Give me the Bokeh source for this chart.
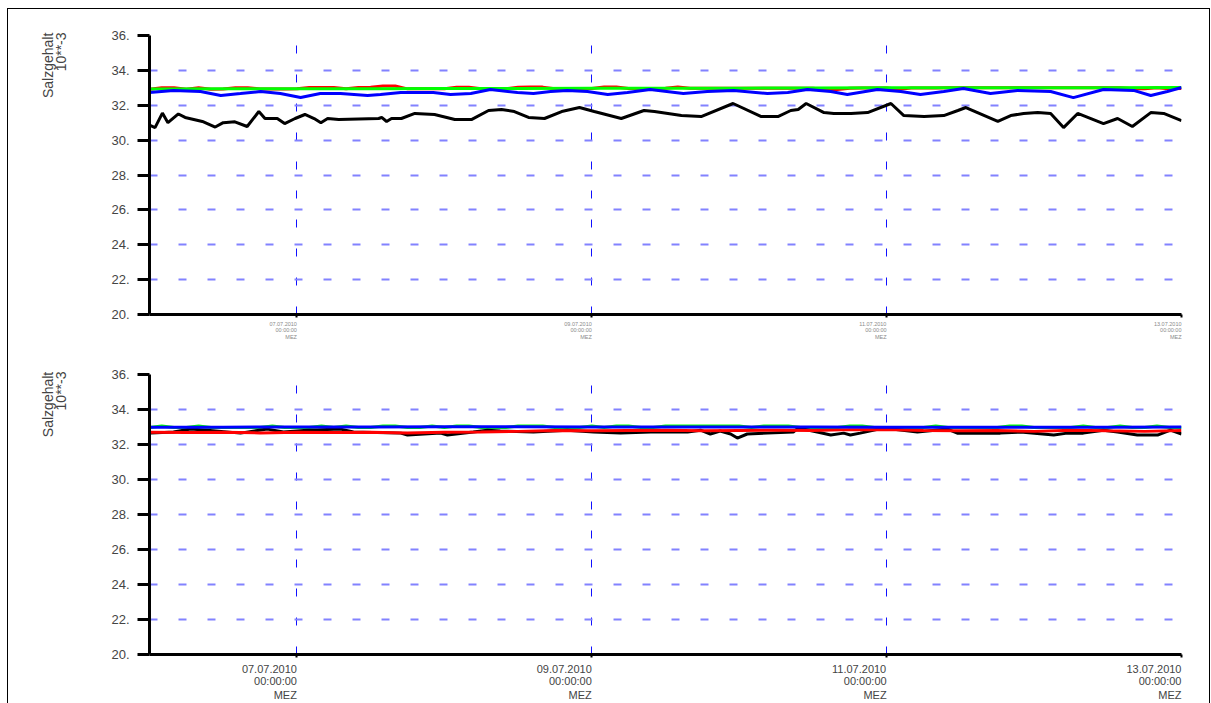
from bokeh.plotting import figure
from bokeh.models import Range1d, FixedTicker, LinearAxis
from bokeh.layouts import column
from bokeh.embed import file_html
from bokeh.resources import INLINE

# ---------------- data (hours since 06.07.2010 00:00 MEZ) ----------------
x_ticks = [24, 72, 120, 168]
x_tick_dates = ["07.07.2010", "09.07.2010", "11.07.2010", "13.07.2010"]
x_tick_times = ["00:00:00", "00:00:00", "00:00:00", "00:00:00"]
x_tick_zones = ["MEZ", "MEZ", "MEZ", "MEZ"]
y_ticks = [20, 22, 24, 26, 28, 30, 32, 34, 36]
y_tick_labels = ["20.", "22.", "24.", "26.", "28.", "30.", "32.", "34.", "36."]
y_title = "Salzgehalt"
y_unit = "10**-3"

# upper panel
top_black_h = [0.1, 0.9, 2.1, 3.0, 4.7, 5.8, 8.6, 10.7, 12.0, 13.9, 15.9, 17.8, 18.8, 20.8, 22.0,
               23.7, 25.3, 26.8, 27.9, 29.0, 30.8, 37.3, 37.8, 38.6, 39.4, 41.0, 43.2, 46.4, 49.7,
               52.4, 55.2, 57.3, 59.4, 61.7, 64.3, 67.1, 70.0, 72.4, 76.8, 80.5, 82.2, 86.6, 89.8,
               95.0, 99.6, 102.3, 104.4, 105.6, 106.9, 109.8, 111.4, 114.2, 116.9, 120.7, 122.8,
               126.1, 129.3, 131.6, 132.9, 138.1, 140.2, 142.3, 144.6, 146.7, 148.8, 151.1, 155.3,
               157.6, 160.0, 163.0, 165.1, 168.0]
top_black_v = [30.84, 30.72, 31.55, 31.0, 31.5, 31.3, 31.07, 30.75, 31.0, 31.05, 30.78, 31.64, 31.24,
               31.24, 30.95, 31.24, 31.47, 31.24, 31.0, 31.24, 31.18, 31.24, 31.3, 31.07, 31.24, 31.24,
               31.53, 31.47, 31.18, 31.18, 31.7, 31.76, 31.64, 31.3, 31.24, 31.64, 31.87, 31.64, 31.24,
               31.7, 31.64, 31.41, 31.35, 32.1, 31.35, 31.35, 31.7, 31.76, 32.1, 31.58, 31.53, 31.53,
               31.58, 32.1, 31.41, 31.35, 31.41, 31.7, 31.87, 31.07, 31.41, 31.53, 31.58, 31.53, 30.72,
               31.53, 30.95, 31.24, 30.78, 31.58, 31.53, 31.12]

top_blue_h = [0, 3.9, 8.3, 11.6, 14.8, 18.1, 21.3, 24.6, 27.8, 31.1, 35.5, 37.6, 40.9, 46.2, 49.0,
              52.3, 55.5, 59.9, 62.5, 65.3, 68.0, 71.3, 74.6, 77.8, 81.5, 86.9, 90.8, 95.1, 100.6,
              103.9, 107.1, 110.9, 113.6, 118.5, 122.3, 125.5, 129.3, 132.5, 136.9, 141.3, 146.7,
              150.4, 155.3, 160.2, 163.0, 165.7, 168.0]
top_blue_v = [32.73, 32.85, 32.79, 32.56, 32.67, 32.79, 32.67, 32.44, 32.67, 32.67, 32.56, 32.62,
              32.73, 32.73, 32.62, 32.67, 32.9, 32.73, 32.67, 32.79, 32.85, 32.79, 32.62, 32.73,
              32.9, 32.67, 32.79, 32.85, 32.67, 32.73, 32.9, 32.79, 32.62, 32.9, 32.79, 32.62,
              32.79, 32.96, 32.67, 32.85, 32.79, 32.44, 32.9, 32.85, 32.56, 32.79, 33.02]

top_green_h = [0, 12, 24, 36, 48, 60, 72, 84, 96, 108, 120, 132, 144, 156, 168]
top_green_v = [32.93, 32.94, 32.95, 32.95, 32.96, 32.96, 32.97, 32.97, 32.98, 32.99, 33.0, 33.0,
               33.01, 33.01, 33.02]

top_red_h = list(range(0, 169, 2))
top_red_v = [32.92, 33.0, 33.0, 32.92, 33.0, 32.92, 32.93, 33.01, 33.01, 32.93, 32.93, 32.93, 32.94,
             33.02, 33.02, 33.02, 32.94, 33.02, 33.03, 33.1, 33.1, 32.94, 32.94, 32.94, 32.95, 33.03,
             33.03, 32.95, 32.95, 32.95, 33.03, 33.04, 33.04, 32.95, 32.95, 32.96, 32.96, 33.04, 33.04,
             32.96, 32.96, 32.96, 32.97, 33.04, 32.97, 32.97, 32.97, 32.97, 32.97, 32.97, 32.98, 32.98,
             32.98, 32.98, 32.98, 32.9, 32.9, 32.98, 32.99, 32.99, 32.99, 32.92, 32.99, 32.99, 32.99,
             33.0, 33.0, 33.0, 33.0, 33.0, 33.0, 33.0, 33.0, 33.0, 33.0, 33.01, 33.01, 33.01, 33.01,
             33.01, 32.94, 32.94, 33.01, 32.95, 32.96]

# lower panel
bot_blue_h = [0, 12, 24, 36, 48, 60, 72, 84, 96, 108, 120, 132, 144, 156, 168]
bot_blue_v = [32.98, 32.99, 33.0, 33.0, 33.01, 33.01, 33.0, 33.0, 33.0, 33.0, 32.99, 32.98, 32.98,
              32.99, 33.0]

bot_green_h = list(range(0, 169, 2))
bot_green_v = [32.97, 33.06, 32.97, 32.97, 33.06, 32.97, 32.97, 32.97, 32.97, 32.97, 33.06, 32.97,
               32.97, 32.97, 33.06, 32.97, 33.06, 32.97, 32.97, 33.06, 33.06, 32.97, 32.97, 33.06,
               32.97, 33.06, 33.06, 32.97, 32.97, 32.97, 33.06, 33.06, 33.06, 32.97, 32.97, 32.97,
               33.06, 32.97, 33.06, 33.06, 32.97, 32.97, 33.06, 33.06, 33.06, 33.06, 33.06, 33.06,
               33.06, 32.97, 33.06, 33.06, 33.06, 32.97, 32.97, 32.97, 32.97, 33.06, 33.06, 32.97,
               32.97, 32.97, 32.97, 32.97, 33.06, 32.97, 32.97, 32.97, 32.97, 32.97, 33.06, 33.06,
               32.97, 32.97, 32.97, 32.97, 33.06, 32.97, 32.97, 33.06, 32.97, 32.97, 33.06, 32.97,
               32.97]

bot_red_h = [0, 6, 12, 18, 24, 30, 36, 42, 48, 54, 60, 66, 72, 78, 84, 90, 96, 102, 108, 114, 120,
             126, 132, 138, 144, 150, 156, 162, 168]
bot_red_v = [32.7, 32.68, 32.7, 32.66, 32.7, 32.68, 32.7, 32.66, 32.7, 32.72, 32.75, 32.8, 32.78,
             32.8, 32.82, 32.78, 32.8, 32.82, 32.8, 32.85, 32.85, 32.8, 32.78, 32.8, 32.75, 32.82,
             32.78, 32.75, 32.8]

bot_black_h = [0.2, 3.9, 6.7, 9.4, 14.8, 19.2, 21.8, 25.7, 31.1, 33.2, 40.9, 42.0, 47.4, 48.5, 52.7,
               55.0, 57.1, 62.5, 68.0, 72.3, 76.7, 81.6, 87.6, 89.7, 91.3, 92.9, 94.6, 95.7, 97.3,
               100.6, 104.8, 105.6, 108.7, 110.9, 113.0, 114.1, 115.7, 119.5, 125.0, 129.9, 131.5,
               138.5, 141.8, 147.2, 149.4, 152.0, 155.3, 157.6, 160.8, 164.1, 166.2, 168.0]
bot_black_v = [32.65, 32.71, 32.88, 32.82, 32.65, 32.88, 32.71, 32.82, 32.88, 32.71, 32.65, 32.54,
               32.65, 32.54, 32.71, 32.82, 32.77, 32.71, 32.82, 32.71, 32.65, 32.71, 32.71, 32.82,
               32.6, 32.77, 32.6, 32.37, 32.6, 32.65, 32.71, 32.94, 32.71, 32.54, 32.65, 32.54,
               32.65, 32.94, 32.71, 32.88, 32.65, 32.65, 32.71, 32.54, 32.65, 32.65, 32.82, 32.71,
               32.54, 32.54, 32.82, 32.6]

# ---------------- styling ----------------
FONT = "Liberation Sans"
TXT = "#444444"
W = 1201
LEFT = 141
FRAME_W = 1032
PX_PER_H = FRAME_W / 168.0
# text widths in em for Liberation Sans (Arial metrics), used to right-align tick rows
ROW_EM = [5.004, 3.892, 2.111]


def make_panel(height, mb_top, mb_bottom, series, lbl_px, lbl_color, main_standoff, row_standoffs):
    p = figure(width=W, height=height, output_backend="svg", toolbar_location=None,
               x_range=Range1d(0, 168), y_range=Range1d(20, 36),
               min_border_left=LEFT, min_border_right=W - LEFT - FRAME_W,
               min_border_top=mb_top, min_border_bottom=mb_bottom)
    p.outline_line_color = None
    p.background_fill_color = "white"
    p.border_fill_color = "white"

    # y axis
    p.yaxis.ticker = FixedTicker(ticks=y_ticks)
    p.yaxis.major_label_overrides = {t: l for t, l in zip(y_ticks, y_tick_labels)}
    p.yaxis.axis_line_width = 3
    p.yaxis.axis_line_color = "black"
    p.yaxis.major_tick_line_width = 3
    p.yaxis.major_tick_out = 12
    p.yaxis.major_tick_in = 0
    p.yaxis.minor_tick_line_color = None
    p.yaxis.major_label_standoff = 8
    p.yaxis.major_label_text_font = FONT
    p.yaxis.major_label_text_font_size = "13px"
    p.yaxis.major_label_text_color = TXT

    # y title: two rotated, label-only axes, ending at the top of the axis
    for txt, pos, standoff in ((y_unit, 35.06, 39), (y_title, 34.29, -6)):
        ax = LinearAxis(ticker=FixedTicker(ticks=[pos]), major_label_overrides={pos: txt},
                        major_label_orientation="vertical",
                        axis_line_color=None, major_tick_line_color=None,
                        minor_tick_line_color=None, major_tick_out=0, minor_tick_out=0,
                        major_label_standoff=standoff,
                        major_label_text_font=FONT, major_label_text_font_size="14px",
                        major_label_text_color=TXT)
        p.add_layout(ax, "left")

    # x axis (ticks only)
    p.xaxis.ticker = FixedTicker(ticks=x_ticks)
    p.xaxis.major_label_overrides = {t: "" for t in x_ticks}
    p.xaxis.major_label_text_font_size = "1px"
    p.xaxis.major_label_standoff = main_standoff
    p.xaxis.axis_line_width = 3
    p.xaxis.axis_line_color = "black"
    p.xaxis.major_tick_line_width = 2
    p.xaxis.major_tick_out = 3
    p.xaxis.major_tick_in = 0
    p.xaxis.minor_tick_line_color = None

    # x tick label rows, right aligned to the ticks
    extra = {}
    rows = [x_tick_dates, x_tick_times, x_tick_zones]
    fpx = float(lbl_px.replace("px", ""))
    for k, em in enumerate(ROW_EM):
        s = em * fpx / 2.0 / PX_PER_H
        extra["row%d" % k] = Range1d(s, 168 + s)
    p.extra_x_ranges = extra
    for k, row in enumerate(rows):
        ax = LinearAxis(x_range_name="row%d" % k, ticker=FixedTicker(ticks=x_ticks),
                        major_label_overrides={t: l for t, l in zip(x_ticks, row)},
                        axis_line_color=None, major_tick_line_color=None,
                        minor_tick_line_color=None, major_tick_out=0, minor_tick_out=0,
                        major_label_standoff=row_standoffs[k],
                        major_label_text_font=FONT, major_label_text_font_size=lbl_px,
                        major_label_text_color=lbl_color)
        p.add_layout(ax, "below")

    # grid
    p.xgrid.grid_line_color = "#1010ff"
    p.xgrid.grid_line_dash = "8 21"
    p.xgrid.grid_line_width = 1
    p.ygrid.grid_line_color = "#8282ff"
    p.ygrid.grid_line_dash = "8 21"
    p.ygrid.grid_line_width = 2

    for hs, vs, col in series:
        p.line(hs, vs, line_color=col, line_width=3)
    return p


top = make_panel(340, 26, 35,
                 [(top_black_h, top_black_v, "black"),
                  (top_red_h, top_red_v, "#ff0000"),
                  (top_green_h, top_green_v, "#00ff00"),
                  (top_blue_h, top_blue_v, "#0000ff")],
                 "5.5px", "#8a8a8a", 0, [4, -2, -2])

bottom = make_panel(354, 25, 47,
                    [(bot_green_h, bot_green_v, "#00ff00"),
                     (bot_black_h, bot_black_v, "black"),
                     (bot_red_h, bot_red_v, "#ff0000"),
                     (bot_blue_h, bot_blue_v, "#0000ff")],
                    "11px", TXT, -1, [7, -1, -1])

layout = column(top, bottom, styles={"margin": "8px 0 0 7px", "border": "1px solid black",
                                     "border-bottom": "none"})

open("out.html", "w").write(file_html(layout, INLINE))
